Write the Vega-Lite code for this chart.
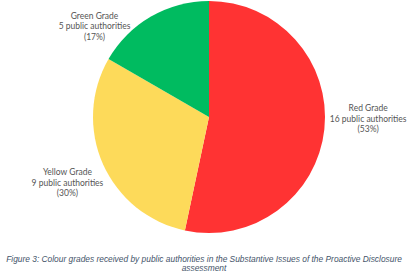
{
  "$schema": "https://vega.github.io/schema/vega-lite/v6.json",
  "autosize": "none",
  "padding": {"left": 0, "top": 0, "right": 0, "bottom": 39},
  "width": 418,
  "height": 234,
  "background": "white",
  "config": {"view": {"stroke": null}},
  "title": {
    "text": ["Figure 3: Colour grades received by public authorities in the Substantive Issues of the Proactive Disclosure", "assessment"],
    "orient": "bottom",
    "anchor": "middle",
    "dx": -5,
    "offset": 21,
    "font": "Liberation Sans",
    "fontSize": 8.4,
    "fontStyle": "italic",
    "fontWeight": "normal",
    "color": "#44546a",
    "lineHeight": 9
  },
  "data": {
    "values": [
      {"grade": "Red Grade", "count": 16, "idx": 1, "label": "Red Grade\n16 public authorities\n(53%)"},
      {"grade": "Yellow Grade", "count": 9, "idx": 2, "label": "Yellow Grade\n9 public authorities\n(30%)"},
      {"grade": "Green Grade", "count": 5, "idx": 3, "label": "Green Grade\n5 public authorities\n(17%)"}
    ]
  },
  "encoding": {
    "theta": {"field": "count", "type": "quantitative", "stack": true},
    "order": {"field": "idx", "type": "quantitative"},
    "detail": {"field": "grade"}
  },
  "layer": [
    {
      "mark": {"type": "arc", "outerRadius": 116},
      "encoding": {
        "color": {
          "field": "grade",
          "type": "nominal",
          "scale": {"domain": ["Red Grade", "Yellow Grade", "Green Grade"], "range": ["#ff3333", "#fdda5a", "#00bb60"]},
          "legend": null
        }
      }
    },
    {
      "mark": {"type": "text", "radius": 155, "dx": 5, "dy": -25, "lineBreak": "\n", "font": "Lato", "fontSize": 8.5, "color": "#555555", "lineHeight": 10.5, "align": "center", "baseline": "middle"},
      "encoding": {"text": {"condition": {"test": "datum.grade === 'Red Grade'", "field": "label"}, "value": ""}}
    },
    {
      "mark": {"type": "text", "radius": 155, "dx": 0, "dy": -8, "lineBreak": "\n", "font": "Lato", "fontSize": 8.5, "color": "#555555", "lineHeight": 10.5, "align": "center", "baseline": "middle"},
      "encoding": {"text": {"condition": {"test": "datum.grade === 'Yellow Grade'", "field": "label"}, "value": ""}}
    },
    {
      "mark": {"type": "text", "radius": 155, "dx": -37, "dy": 33, "lineBreak": "\n", "font": "Lato", "fontSize": 8.5, "color": "#555555", "lineHeight": 10.5, "align": "center", "baseline": "middle"},
      "encoding": {"text": {"condition": {"test": "datum.grade === 'Green Grade'", "field": "label"}, "value": ""}}
    }
  ]
}
